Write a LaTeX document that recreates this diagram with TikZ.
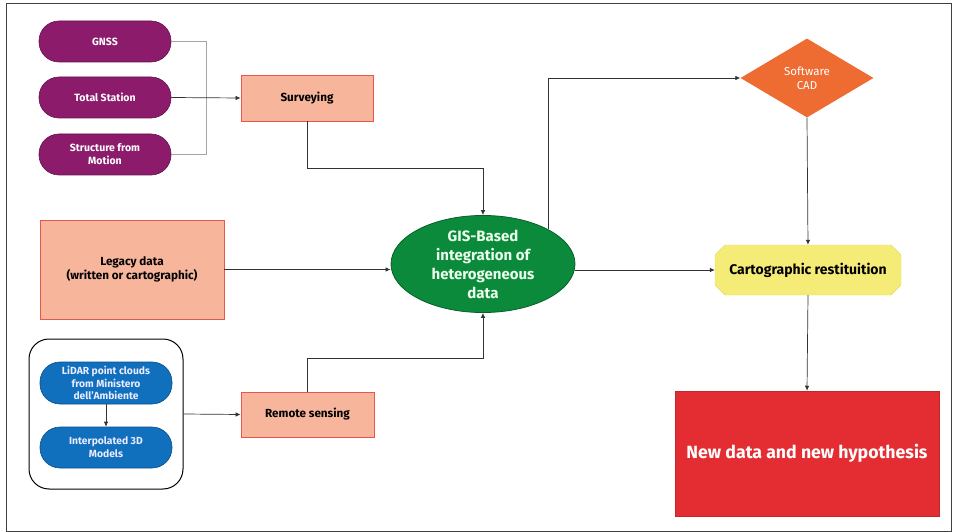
\documentclass[tikz,border=0pt]{standalone}
\usepackage{fontspec}
\setmainfont{Fira Sans}
\usetikzlibrary{arrows.meta,shapes.geometric,shapes.misc,calc}
\definecolor{purp}{HTML}{8C1B6C}
\definecolor{blu}{HTML}{1070BE}
\definecolor{salm}{HTML}{F7B59B}
\definecolor{salmb}{HTML}{E8564C}
\definecolor{grn}{HTML}{0C8A3C}
\definecolor{grnb}{HTML}{06602A}
\definecolor{yel}{HTML}{F5EC78}
\definecolor{yelb}{HTML}{E6D960}
\definecolor{orng}{HTML}{EE6C32}
\definecolor{redb}{HTML}{E32D32}
\begin{document}
\begin{tikzpicture}[x=1pt,y=-1pt,
  pill/.style={rectangle,rounded corners=20pt,draw=#1!70!black,fill=#1,text=white,font=\bfseries\fontsize{10.5}{13}\selectfont,align=center,minimum width=132pt,minimum height=41pt,inner sep=0pt,line width=0.6pt},
  salmbox/.style={rectangle,draw=salmb,fill=salm,font=\bfseries\fontsize{11.7}{14}\selectfont,align=center,inner sep=0pt,line width=0.8pt},
  arr/.style={draw=black!80,line width=0.7pt,-{Latex[length=5pt,width=4.5pt]}},
  lgt/.style={draw=black!35,line width=0.7pt},
]
\useasboundingbox (0,0) rectangle (954,532);
\draw[black!75,line width=1pt] (6,4) rectangle (951,531);

\node[pill=purp] (gnss) at (105,41.5) {GNSS};
\node[pill=purp] (ts) at (105,97.5) {Total Station};
\node[pill=purp] (sfm) at (105,154.5) {Structure from\\Motion};

\node[salmbox,minimum width=132pt,minimum height=46pt] (surv) at (307,98) {Surveying};
\node[salmbox,minimum width=184pt,minimum height=99pt] (legacy) at (132,269.5) {Legacy data\\(written or cartographic)};
\node[salmbox,minimum width=133pt,minimum height=45pt] (remote) at (307.5,414.5) {Remote sensing};

\node[draw=black,line width=1pt,rounded corners=20pt,minimum width=154pt,minimum height=150pt,inner sep=0pt] (group) at (106,414) {};
\node[pill=blu,text=blue!8,font=\bfseries\fontsize{10.3}{12.7}\selectfont,minimum height=42pt] (lidar) at (106,383) {LiDAR point clouds\\from Ministero\\dell'Ambiente};
\node[pill=blu,text=blue!8,font=\bfseries\fontsize{10.3}{12.7}\selectfont] (interp) at (106,447.5) {Interpolated 3D\\Models};

\node[ellipse,draw=grnb,fill=grn,line width=0.8pt,minimum width=184pt,minimum height=94pt,inner sep=0pt,text=green!8!white,font=\bfseries\fontsize{15}{19}\selectfont,align=center] (gis) at (483,264) {GIS-Based\\integration of\\heterogeneous\\data};

\node[diamond,fill=orng,aspect=1.68,minimum width=133pt,minimum height=79pt,inner sep=0pt,text=white,font=\fontsize{11.5}{14}\selectfont,align=center] (cad) at (807,78) {Software\\CAD};

\node[chamfered rectangle,chamfered rectangle xsep=5pt,chamfered rectangle ysep=5pt,draw=yelb,fill=yel,minimum width=186pt,minimum height=50pt,inner sep=0pt,font=\bfseries\fontsize{14}{16}\selectfont] (carto) at (808,270) {Cartographic restituition};

\node[rectangle,fill=redb,draw=redb!85!black,line width=0.5pt,minimum width=264pt,minimum height=125pt,inner sep=0pt,text=white,font=\bfseries\fontsize{17.7}{21}\selectfont] (newdata) at (807,453.5) {New data and new hypothesis};

% connectors
\draw[lgt] (gnss.east) -- ++(35,0) |- (sfm.east);
\draw[arr] (ts.east) -- (surv.west);
\draw[arr] (surv.south) |- ([yshift=47pt]gis.north) -- (gis.north);
\draw[arr] (legacy.east) -- (legacy.east -| gis.west);
\draw[arr] (remote.north) |- ([yshift=-45pt]gis.south) -- (gis.south);
\draw[arr] (lidar.south) -- (interp.north);
\draw[arr] (group.east) -- (remote.west);
\draw[arr] (gis.north east) |- (cad.west);
\draw[arr] (carto.west -| gis.east) -- (carto.west);
\draw[arr] (cad.south) -- (carto.north);
\draw[arr] (carto.south) -- (newdata.north);
\end{tikzpicture}
\end{document}
